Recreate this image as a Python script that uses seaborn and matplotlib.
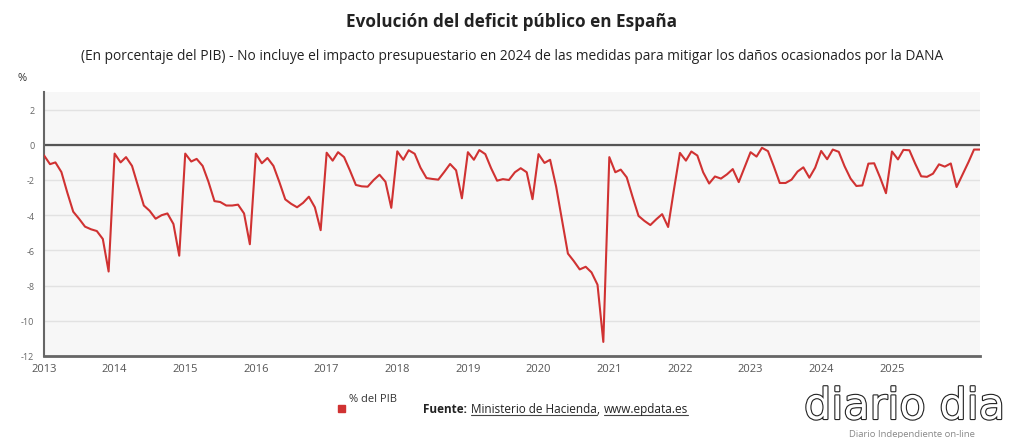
import numpy as np
import pandas as pd
import matplotlib
matplotlib.use('Agg')
import matplotlib.pyplot as plt
import matplotlib.dates as mdates
import matplotlib.patheffects as pe
from matplotlib.lines import Line2D
from matplotlib.patches import Rectangle
import seaborn as sns

# Deficit mensual acumulado (% del PIB)
d2013 = [-0.6, -1.1, -1.0, -1.55, -2.7, -3.8, -4.2, -4.65, -4.8, -4.9, -5.35, -7.2]
d2014 = [-0.5, -1.0, -0.7, -1.2, -2.3, -3.45, -3.75, -4.2, -4.0, -3.9, -4.5, -6.3]
d2015 = [-0.5, -0.95, -0.8, -1.2, -2.1, -3.2, -3.25, -3.45, -3.45, -3.4, -3.9, -5.65]
d2016 = [-0.5, -1.05, -0.75, -1.2, -2.1, -3.1, -3.35, -3.55, -3.3, -2.95, -3.55, -4.85]
d2017 = [-0.45, -0.9, -0.42, -0.7, -1.45, -2.28, -2.36, -2.38, -2.0, -1.7, -2.1, -3.58]
d2018 = [-0.37, -0.85, -0.31, -0.51, -1.3, -1.89, -1.94, -1.98, -1.54, -1.09, -1.45, -3.04]
d2019 = [-0.42, -0.85, -0.3, -0.53, -1.33, -2.04, -1.95, -2.0, -1.56, -1.33, -1.56, -3.09]
d2020 = [-0.53, -1.03, -0.85, -2.37, -4.23, -6.18, -6.6, -7.08, -6.93, -7.25, -7.95, -11.2]
d2021 = [-0.7, -1.56, -1.41, -1.85, -2.95, -4.04, -4.32, -4.56, -4.23, -3.94, -4.67, -2.55]
d2022 = [-0.46, -0.9, -0.38, -0.61, -1.56, -2.2, -1.8, -1.92, -1.68, -1.38, -2.12, -1.28]
d2023 = [-0.42, -0.67, -0.17, -0.36, -1.22, -2.17, -2.17, -1.98, -1.52, -1.28, -1.87, -1.3]
d2024 = [-0.35, -0.82, -0.27, -0.4, -1.22, -1.92, -2.34, -2.31, -1.07, -1.05, -1.87, -2.75]
d2025 = [-0.38, -0.83, -0.29, -0.31, -1.07, -1.79, -1.82, -1.64, -1.11, -1.24, -1.06, -2.4]
d2026 = [-1.68, -0.97, -0.27, -0.27]

years = list(range(2013, 2026))
yticks = [-12, -10, -8, -6, -4, -2, 0, 2]

valores = (d2013 + d2014 + d2015 + d2016 + d2017 + d2018 + d2019 + d2020
           + d2021 + d2022 + d2023 + d2024 + d2025 + d2026)
fechas = pd.date_range('2013-01-01', periods=len(valores), freq='MS')
df = pd.DataFrame({'fecha': fechas, 'valor': valores})

sns.set_style('white')
plt.rcParams['font.family'] = ['Open Sans', 'DejaVu Sans']

fig = plt.figure(figsize=(10.24, 4.39), dpi=100)
ax = fig.add_axes([44 / 1024, 1 - 357 / 439, (980 - 44) / 1024, (357 - 93) / 439])
ax.set_facecolor('#f7f7f7')

for yv in yticks:
    ax.axhline(yv, color='#e2e2e2', lw=1, zorder=0)
ax.axhline(0, color='#555555', lw=1.6, zorder=1)

sns.lineplot(data=df, x='fecha', y='valor', color='#d03232', linewidth=1.5, ax=ax, zorder=3)

ax.set_ylim(-12, 3)
ax.set_xlim(fechas[0], fechas[-1])
ax.set_yticks(yticks)
ax.set_yticklabels([str(v) for v in yticks], fontsize=6.5, color='#666666')
ax.set_xticks([pd.Timestamp(f'{y}-01-01') for y in years])
ax.xaxis.set_major_formatter(mdates.DateFormatter('%Y'))
ax.tick_params(axis='x', labelsize=8, colors='#555555', length=3, width=1, pad=2)
ax.tick_params(axis='y', length=3, width=1, color='#666666', pad=4)
ax.set_xlabel('')
ax.set_ylabel('')

for s in ['top', 'right']:
    ax.spines[s].set_visible(False)
ax.spines['left'].set_color('#666666')
ax.spines['left'].set_linewidth(1.5)
ax.spines['bottom'].set_color('#666666')
ax.spines['bottom'].set_linewidth(2)

# Titulos
fig.text(0.5, 1 - 22 / 439, 'Evolución del deficit público en España', ha='center', va='center',
         fontsize=12.3, fontweight='bold', color='#222222')
fig.text(0.5, 1 - 56 / 439,
         '(En porcentaje del PIB) - No incluye el impacto presupuestario en 2024 de las medidas para mitigar los daños ocasionados por la DANA',
         ha='center', va='center', fontsize=9.9, color='#222222')
fig.text(17 / 1024, 1 - 79 / 439, '%', ha='left', va='center', fontsize=8, color='#333333')

# Leyenda
fig.add_artist(Rectangle((338 / 1024, 1 - 413 / 439), 7 / 1024, 7 / 439,
                         transform=fig.transFigure, color='#d03232'))
fig.text(349 / 1024, 1 - 400 / 439, '% del PIB', ha='left', va='center', fontsize=8, color='#333333')

# Fuente
fig.canvas.draw()
r = fig.canvas.get_renderer()
inv = fig.transFigure.inverted()
yf = 1 - 410 / 439
t1 = fig.text(423 / 1024, yf, 'Fuente:', ha='left', va='center', fontsize=8.5,
              fontweight='bold', color='#222222')
piezas = [('Ministerio de Hacienda', True), (',', False), ('www.epdata.es', True)]
prev = t1
for txt, subr in piezas:
    bb = prev.get_window_extent(r)
    gap = 0 if txt == ',' else 4
    x0 = inv.transform((bb.x1 + gap, 0))[0]
    t = fig.text(x0, yf, txt, ha='left', va='center', fontsize=8.5, color='#222222')
    if subr:
        b2 = t.get_window_extent(r)
        p0 = inv.transform((b2.x0, b2.y0 + 1))
        p1 = inv.transform((b2.x1, b2.y0 + 1))
        fig.add_artist(Line2D([p0[0], p1[0]], [p0[1], p1[1]], transform=fig.transFigure,
                              color='#444444', lw=0.8))
    prev = t

# Logo
fig.text(804 / 1024, 1 - 420 / 439, 'diario dia', ha='left', va='baseline', fontsize=31,
         family='DejaVu Sans', color='white',
         path_effects=[pe.Stroke(linewidth=1.6, foreground='#222222'), pe.Normal()])
fig.text(912 / 1024, 1 - 435 / 439, 'Diario Independiente on-line', ha='center', va='center',
         fontsize=6.8, color='#888888')

fig.savefig('out.png', dpi=100)
